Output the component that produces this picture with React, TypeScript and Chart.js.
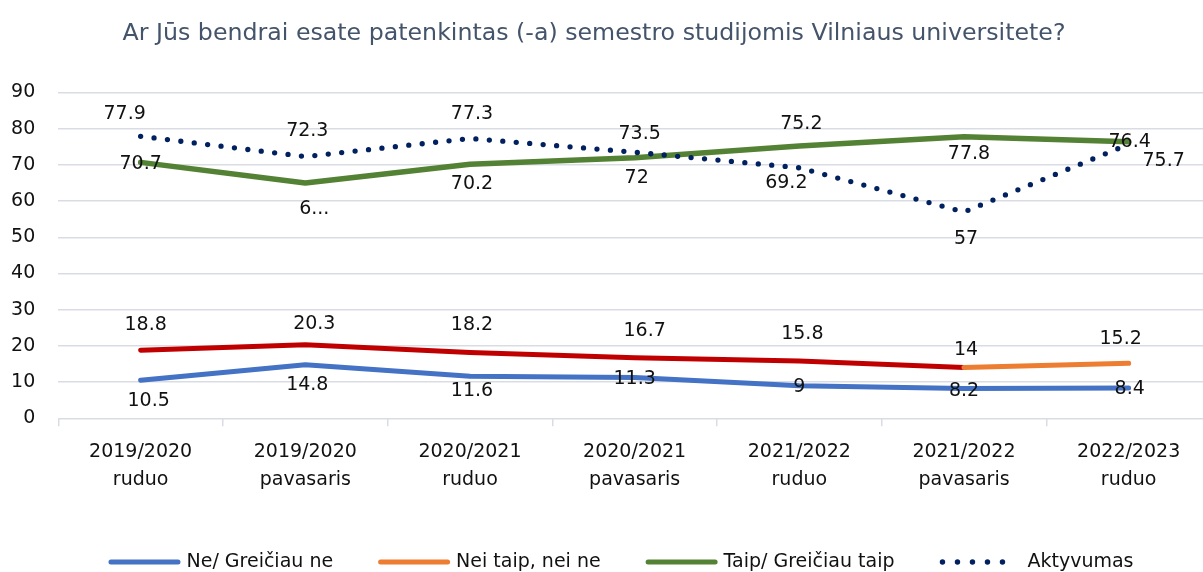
import React, { useEffect, useRef } from "react";
import { Chart, registerables } from "chart.js";

Chart.register(...registerables);

const TITLE = "Ar Jūs bendrai esate patenkintas (-a) semestro studijomis Vilniaus universitete?";

const categories: string[][] = [
  ["2019/2020", "ruduo"],
  ["2019/2020", "pavasaris"],
  ["2020/2021", "ruduo"],
  ["2020/2021", "pavasaris"],
  ["2021/2022", "ruduo"],
  ["2021/2022", "pavasaris"],
  ["2022/2023", "ruduo"],
];

const seriesNames = ["Ne/ Greičiau ne", "Nei taip, nei ne", "Taip/ Greičiau taip", "Aktyvumas"];

const neValues = [10.5, 14.8, 11.6, 11.3, 9, 8.2, 8.4];
const neiTaipValues = [18.8, 20.3, 18.2, 16.7, 15.8, 14, 15.2];
const taipValues = [70.7, 65, 70.2, 72, 75.2, 77.8, 76.4];
const aktyvumasValues = [77.9, 72.3, 77.3, 73.5, 69.2, 57, 75.7];

const Y_MIN = 0;
const Y_MAX = 90;
const Y_STEP = 10;

// label texts (one truncated as in the original)
const neLabels = neValues.map(String);
const neiTaipLabels = neiTaipValues.map(String);
const taipLabels = taipValues.map((v, i) => (i === 1 ? "6..." : String(v)));
const aktyvumasLabels = aktyvumasValues.map(String);

// label offsets relative to each point [dx, dy]
const neOffsets = [[8, 21], [2, 20], [2, 15], [0, 2], [0, 1], [0, 2], [1, 1]];
const neiTaipOffsets = [[5, -25], [9, -21], [2, -27], [10, -27], [3, -27], [2, -18], [-8, -24]];
const taipOffsets = [[0, 2], [9, 26], [2, 20], [2, 20], [2, -22], [5, 17], [1, 0]];
const aktyvumasOffsets = [[-16, -22], [2, -26], [2, -24], [5, -18], [-13, 15], [2, 27], [35, 17]];

const BLUE = "#4472C4";
const ORANGE = "#ED7D31";
const RED = "#C00000";
const GREEN = "#548235";
const NAVY = "#002060";
const GRID = "#D9DDE3";
const TEXT = "#111111";
const TITLE_COLOR = "#44546A";
const FONT = '"DejaVu Sans"';

const labelSets = [
  { labels: neLabels, offsets: neOffsets },
  { labels: neiTaipLabels, offsets: neiTaipOffsets },
  { labels: taipLabels, offsets: taipOffsets },
  { labels: aktyvumasLabels, offsets: aktyvumasOffsets },
];

const legendItems = [
  { name: seriesNames[0], color: BLUE, dotted: false },
  { name: seriesNames[1], color: ORANGE, dotted: false },
  { name: seriesNames[2], color: GREEN, dotted: false },
  { name: seriesNames[3], color: NAVY, dotted: true },
];

const overlayPlugin = {
  id: "overlay",
  afterDatasetsDraw(chart: any) {
    const ctx = chart.ctx;
    ctx.save();
    ctx.font = `19px ${FONT}`;
    ctx.fillStyle = TEXT;
    ctx.textAlign = "center";
    ctx.textBaseline = "middle";
    labelSets.forEach((set, di) => {
      const meta = chart.getDatasetMeta(di);
      meta.data.forEach((pt: any, i: number) => {
        const [dx, dy] = set.offsets[i];
        ctx.fillText(set.labels[i], pt.x + dx, pt.y + dy);
      });
    });
    ctx.restore();
  },
  afterDraw(chart: any) {
    const ctx = chart.ctx;
    ctx.save();
    // title
    ctx.font = `23.7px ${FONT}`;
    ctx.fillStyle = TITLE_COLOR;
    ctx.textAlign = "center";
    ctx.textBaseline = "alphabetic";
    ctx.fillText(TITLE, 594, 40);

    // legend
    ctx.font = `19px ${FONT}`;
    const lineLen = 72;
    const textGap = 6;
    const dotTextGap = 16;
    const itemGap = 45;
    const widths = legendItems.map((it) => lineLen + (it.dotted ? dotTextGap : textGap) + ctx.measureText(it.name).width);
    const total = widths.reduce((a, b) => a + b, 0) + itemGap * (legendItems.length - 1);
    let x = 621 - total / 2;
    const ly = 562;
    legendItems.forEach((it, i) => {
      ctx.beginPath();
      ctx.strokeStyle = it.color;
      ctx.fillStyle = it.color;
      ctx.lineCap = "round";
      if (it.dotted) {
        const n = 5;
        const step = 15;
        for (let k = 0; k < n; k++) {
          ctx.beginPath();
          ctx.arc(x + 3 + k * step, ly, 2.7, 0, Math.PI * 2);
          ctx.fill();
        }
      } else {
        ctx.lineWidth = 5;
        ctx.moveTo(x + 2.5, ly);
        ctx.lineTo(x + lineLen - 2.5, ly);
        ctx.stroke();
      }
      ctx.fillStyle = TEXT;
      ctx.textAlign = "left";
      ctx.textBaseline = "middle";
      const tx = x + lineLen + (it.dotted ? dotTextGap : textGap);
      ctx.fillText(it.name, tx, ly);
      x += widths[i] + itemGap;
    });
    ctx.restore();
  },
};

export default function App() {
  const ref = useRef<HTMLCanvasElement | null>(null);

  useEffect(() => {
    document.body.style.margin = "0";
    const canvas = ref.current;
    if (!canvas) return;
    const chart = new Chart(canvas, {
      type: "line",
      data: {
        labels: categories,
        datasets: [
          {
            label: seriesNames[0],
            data: neValues,
            borderColor: BLUE,
            borderWidth: 5,
            pointRadius: 0,
            borderCapStyle: "round",
            borderJoinStyle: "round",
            tension: 0,
            order: 1,
          },
          {
            label: seriesNames[1],
            data: neiTaipValues,
            borderColor: ORANGE,
            borderWidth: 5,
            pointRadius: 0,
            borderCapStyle: "round",
            borderJoinStyle: "round",
            tension: 0,
            order: 1,
            segment: {
              borderColor: (c: any) => (c.p0DataIndex >= 5 ? ORANGE : RED),
            },
          },
          {
            label: seriesNames[2],
            data: taipValues,
            borderColor: GREEN,
            borderWidth: 5.5,
            pointRadius: 0,
            borderCapStyle: "round",
            borderJoinStyle: "round",
            tension: 0,
            order: 1,
          },
          {
            label: seriesNames[3],
            data: aktyvumasValues,
            borderColor: NAVY,
            borderWidth: 5.3,
            borderDash: [0, 13.5],
            pointRadius: 0,
            borderCapStyle: "round",
            borderJoinStyle: "round",
            tension: 0,
            order: 0,
          },
        ],
      } as any,
      options: {
        responsive: false,
        maintainAspectRatio: false,
        devicePixelRatio: 1,
        animation: false,
        layout: { padding: { top: 92.5, left: 0, right: 0, bottom: 0 } },
        plugins: {
          legend: { display: false },
          title: { display: false },
          tooltip: { enabled: false },
        },
        scales: {
          x: {
            type: "category",
            offset: true,
            grid: {
              offset: true,
              drawOnChartArea: false,
              drawTicks: true,
              tickLength: 8,
              color: GRID,
              lineWidth: 1.5,
            },
            border: { display: false },
            ticks: {
              autoSkip: false,
              maxRotation: 0,
              minRotation: 0,
              padding: 12,
              color: TEXT,
              font: { family: FONT, size: 19, lineHeight: 1.47 },
            },
            afterFit: (s: any) => {
              s.height = 572 - 418.3;
            },
          },
          y: {
            min: Y_MIN,
            max: Y_MAX,
            ticks: {
              stepSize: Y_STEP,
              padding: 23,
              color: TEXT,
              font: { family: FONT, size: 19 },
            },
            grid: {
              drawTicks: false,
              color: GRID,
              lineWidth: 1.5,
            },
            border: { display: false },
            afterFit: (s: any) => {
              s.width = 58.3;
            },
          },
        },
      } as any,
      plugins: [overlayPlugin],
    });
    return () => chart.destroy();
  }, []);

  return (
    <div style={{ width: 1203, height: 572, overflow: "hidden", position: "relative", background: "#fff" }}>
      <canvas ref={ref} width={1211} height={572} style={{ display: "block" }} />
    </div>
  );
}
